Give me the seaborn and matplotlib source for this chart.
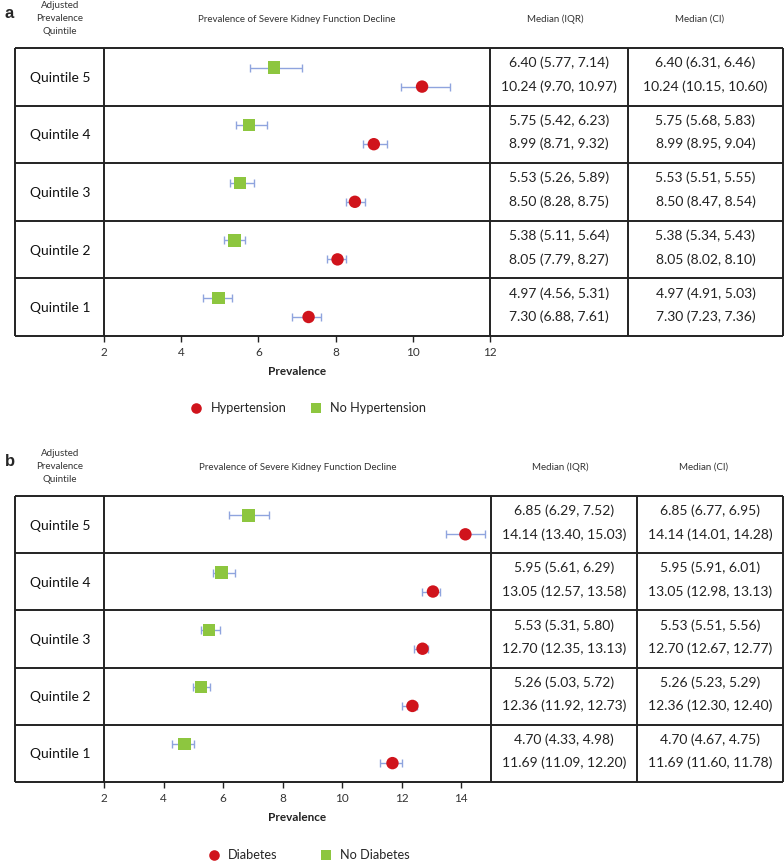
import matplotlib
matplotlib.use("Agg")
import matplotlib.pyplot as plt
import seaborn as sns
import pandas as pd

sns.set_theme(style="white")
plt.rcParams["font.family"] = ["Lato", "DejaVu Sans"]

# ── data ──────────────────────────────────────────────
quintiles = ["Quintile 5", "Quintile 4", "Quintile 3", "Quintile 2", "Quintile 1"]

# panel a: hypertension
a_no_med = [6.40, 5.75, 5.53, 5.38, 4.97]
a_no_q1 = [5.77, 5.42, 5.26, 5.11, 4.56]
a_no_q3 = [7.14, 6.23, 5.89, 5.64, 5.31]
a_no_lo = [6.31, 5.68, 5.51, 5.34, 4.91]
a_no_hi = [6.46, 5.83, 5.55, 5.43, 5.03]
a_yes_med = [10.24, 8.99, 8.50, 8.05, 7.30]
a_yes_q1 = [9.70, 8.71, 8.28, 7.79, 6.88]
a_yes_q3 = [10.97, 9.32, 8.75, 8.27, 7.61]
a_yes_lo = [10.15, 8.95, 8.47, 8.02, 7.23]
a_yes_hi = [10.60, 9.04, 8.54, 8.10, 7.36]

# panel b: diabetes
b_no_med = [6.85, 5.95, 5.53, 5.26, 4.70]
b_no_q1 = [6.29, 5.61, 5.31, 5.03, 4.33]
b_no_q3 = [7.52, 6.29, 5.80, 5.72, 4.98]
b_no_lo = [6.77, 5.91, 5.51, 5.23, 4.67]
b_no_hi = [6.95, 6.01, 5.56, 5.29, 4.75]
b_yes_med = [14.14, 13.05, 12.70, 12.36, 11.69]
b_yes_q1 = [13.40, 12.57, 12.35, 11.92, 11.09]
b_yes_q3 = [15.03, 13.58, 13.13, 12.73, 12.20]
b_yes_lo = [14.01, 12.98, 12.67, 12.30, 11.60]
b_yes_hi = [14.28, 13.13, 12.77, 12.40, 11.78]

# whiskers as drawn in panel b (narrower than the IQR text)
b_no_bar_lo = [6.20, 5.65, 5.27, 5.00, 4.30]
b_no_bar_hi = [7.55, 6.40, 5.88, 5.55, 5.03]
b_yes_bar_lo = [13.50, 12.68, 12.40, 12.02, 11.26]
b_yes_bar_hi = [14.80, 13.30, 12.88, 12.50, 12.00]

RED = "#D0141C"
GREEN = "#8DC63F"
ERR = "#8FA4DE"
LINE = "#222222"

W, H = 784, 861
fig = plt.figure(figsize=(W / 100, H / 100), dpi=100)
bg = fig.add_axes([0, 0, 1, 1])
bg.set_xlim(0, W)
bg.set_ylim(H, 0)
bg.axis("off")


def panel(letter, top, row_h, cols, xmax, xticks, yes_lbl, no_lbl,
          yes_med, yes_q1, yes_q3, yes_lo, yes_hi,
          no_med, no_q1, no_q3, no_lo, no_hi,
          yes_bar, no_bar, head_y, leg_y, leg_gap):
    left, c1, c2, c3, right = cols
    bottom = top + 5 * row_h

    # header texts
    bg.text(5, head_y - 6, letter, fontsize=12, fontweight="bold",
            family="Liberation Sans", ha="left", va="center")
    for i, s in enumerate(["Adjusted", "Prevalence", "Quintile"]):
        bg.text(60, head_y - 14 + 13.5 * i, s, fontsize=7, ha="center", va="center", color="#333")
    bg.text((c1 + c2) / 2, head_y, "Prevalence of Severe Kidney Function Decline",
            fontsize=7, ha="center", va="center", color="#333")
    bg.text((c2 + c3) / 2 - 4, head_y, "Median (IQR)", fontsize=7, ha="center", va="center", color="#333")
    bg.text((c3 + right) / 2 - 6, head_y, "Median (CI)", fontsize=7, ha="center", va="center", color="#333")

    # table grid
    for k in range(6):
        y = top + k * row_h
        bg.plot([left, right], [y, y], color=LINE, lw=1.4, solid_capstyle="butt")
    for x in (left, c1, c2, c3, right):
        bg.plot([x, x], [top, bottom], color=LINE, lw=1.4, solid_capstyle="butt")

    # table cells
    for i in range(5):
        y0 = top + i * row_h
        iqr1 = f"{no_med[i]:.2f} ({no_q1[i]:.2f}, {no_q3[i]:.2f})"
        iqr2 = f"{yes_med[i]:.2f} ({yes_q1[i]:.2f}, {yes_q3[i]:.2f})"
        ci1 = f"{no_med[i]:.2f} ({no_lo[i]:.2f}, {no_hi[i]:.2f})"
        ci2 = f"{yes_med[i]:.2f} ({yes_lo[i]:.2f}, {yes_hi[i]:.2f})"
        for s, cx in ((iqr1, (c2 + c3) / 2), (ci1, (c3 + right) / 2)):
            bg.text(cx, y0 + 0.26 * row_h, s, fontsize=10, ha="center", va="center", color="#222")
        for s, cx in ((iqr2, (c2 + c3) / 2), (ci2, (c3 + right) / 2)):
            bg.text(cx, y0 + 0.67 * row_h, s, fontsize=10, ha="center", va="center", color="#222")

    # plot area
    ax = fig.add_axes([c1 / W, 1 - bottom / H, (c2 - c1) / W, (bottom - top) / H])
    ax.set_facecolor("none")
    idx = list(range(5))
    df = pd.DataFrame({
        "Prevalence": yes_med + no_med,
        "y": [i + 0.17 for i in idx] + [i - 0.16 for i in idx],
        "lo": yes_bar[0] + no_bar[0],
        "hi": yes_bar[1] + no_bar[1],
        "Group": [yes_lbl] * 5 + [no_lbl] * 5,
    })
    ax.errorbar(df["Prevalence"], df["y"],
                xerr=[df["Prevalence"] - df["lo"], df["hi"] - df["Prevalence"]],
                fmt="none", ecolor=ERR, elinewidth=1, capsize=3, capthick=1, zorder=2)
    sns.scatterplot(data=df, x="Prevalence", y="y", hue="Group", style="Group",
                    hue_order=[yes_lbl, no_lbl], style_order=[yes_lbl, no_lbl],
                    palette={yes_lbl: RED, no_lbl: GREEN},
                    markers={yes_lbl: "o", no_lbl: "s"},
                    s=80, linewidth=0, ax=ax, zorder=3)
    ax.set_xlim(2, xmax)
    ax.set_ylim(4.5, -0.5)
    ax.set_xticks(xticks)
    ax.set_yticks(idx)
    ax.set_yticklabels(quintiles, fontsize=10, color="#111", ha="center")
    for sp in ax.spines.values():
        sp.set_visible(False)
    ax.tick_params(axis="x", direction="out", length=4, width=1, color=LINE,
                   labelsize=8.5, labelcolor="#333", pad=4, bottom=True)
    ax.tick_params(axis="y", length=0, pad=(c1 - 60) * 0.72)
    ax.set_xlabel("Prevalence", fontsize=8.5, fontweight="bold", color="#222", labelpad=6)
    ax.set_ylabel("")
    sns.move_legend(ax, "center", bbox_to_anchor=(0.52, 1 - (leg_y - top) / (bottom - top)),
                    ncol=2, frameon=False, title=None, fontsize=9.2,
                    handletextpad=0.1, columnspacing=leg_gap, markerscale=0.85)
    return ax


panel("a", 48, 57.6, (15, 104, 490, 628, 783), 12, [2, 4, 6, 8, 10, 12],
      "Hypertension", "No Hypertension",
      a_yes_med, a_yes_q1, a_yes_q3, a_yes_lo, a_yes_hi,
      a_no_med, a_no_q1, a_no_q3, a_no_lo, a_no_hi,
      (a_yes_q1, a_yes_q3), (a_no_q1, a_no_q3),
      head_y=19, leg_y=408, leg_gap=1.3)

panel("b", 496, 57.2, (15, 104, 491, 637, 783), 15, [2, 4, 6, 8, 10, 12, 14],
      "Diabetes", "No Diabetes",
      b_yes_med, b_yes_q1, b_yes_q3, b_yes_lo, b_yes_hi,
      b_no_med, b_no_q1, b_no_q3, b_no_lo, b_no_hi,
      (b_yes_bar_lo, b_yes_bar_hi), (b_no_bar_lo, b_no_bar_hi),
      head_y=467, leg_y=855, leg_gap=2.8)

fig.savefig("out.png", dpi=100)
